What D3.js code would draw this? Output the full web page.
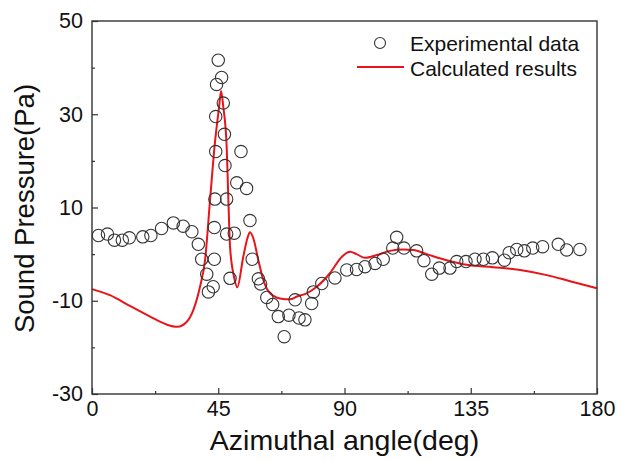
<!DOCTYPE html>
<html>
<head>
<meta charset="utf-8">
<script src="https://cdn.jsdelivr.net/npm/d3@7"></script>
<style>
  html, body { margin: 0; padding: 0; background: #fff; }
  svg { display: block; font-family: "Liberation Sans", Arial, Helvetica, sans-serif; }
</style>
</head>
<body>
<svg id="chart" width="617" height="461"></svg>
<script>
// Measured sound pressure (angle in degrees, pressure in Pa)
const expAngle = [2.3, 5.5, 8.0, 10.8, 13.3, 18.1, 21.0, 24.8, 29.0, 32.5, 35.6, 37.9, 39.1, 40.9, 41.5, 43.2,
  43.6, 43.6, 43.8, 44.1, 44.1, 44.4, 45.0, 46.2, 46.8, 47.2, 47.4, 48.0, 48.0, 49.2, 50.7, 51.6, 53.1, 55.1,
  56.3, 57.1, 59.3, 60.1, 62.3, 64.4, 66.4, 68.5, 70.2, 72.4, 73.8, 75.9, 78.3, 78.9, 81.9, 86.6, 90.8, 94.3,
  97.3, 100.9, 103.8, 107.2, 108.6, 111.2, 115.7, 118.3, 121.1, 123.8, 127.6, 130.0, 133.3, 136.5, 139.5,
  142.7, 147.0, 148.7, 151.4, 154.1, 157.1, 160.6, 166.2, 169.2, 173.9];
const expPressure = [4.0, 4.3, 3.0, 3.0, 3.5, 3.7, 4.0, 5.5, 6.7, 6.0, 4.8, 2.1, -1.1, -4.3, -8.1, -7.0,
  -1.1, 5.7, 11.8, 22.0, 29.5, 36.4, 41.6, 37.9, 32.4, 25.7, 19.0, 11.8, 4.3, -5.2, 4.5, 15.3, 22.0, 14.1,
  7.2, -1.1, -5.3, -6.4, -9.3, -10.8, -13.4, -17.7, -13.1, -9.8, -13.7, -14.1, -10.6, -8.1, -6.3, -5.1, -3.4, -3.3,
  -2.7, -2.0, -1.1, 1.3, 3.6, 1.3, 0.7, -1.4, -4.3, -3.0, -3.0, -1.6, -1.6, -1.1, -1.1,
  -0.8, -1.3, 0.3, 1.0, 0.7, 1.3, 1.6, 2.1, 0.9, 1.0];

// Model prediction
const calcAngle = [0, 6.4, 13.5, 20.7, 26.6, 30.4, 33.8, 36.1, 38.5, 40.3, 42.1, 43.8, 45.3, 46.0, 46.8,
  48.0, 48.6, 49.2, 50.6, 51.8, 53.9, 55.4, 56.3, 57.5, 59.3, 61.1, 63.5, 67.0, 70.6, 73.0, 76.5, 80.1,
  84.8, 89.0, 92.0, 94.3, 97.3, 101.5, 106.2, 111.0, 114.5, 119.3, 126.4, 133.6, 143.0, 152.6, 162.1,
  170.4, 180];
const calcPressure = [-7.5, -8.8, -11.1, -13.4, -15.1, -15.6, -14.5, -12.0, -7.0, -1.3, 11.8, 23.8, 31.6, 35.0, 31.6,
  23.0, 11.8, 1.6, -4.8, -7.1, -0.6, 3.4, 4.7, 3.4, -1.3, -5.6, -8.4, -9.5, -9.7, -9.1, -8.4, -7.0,
  -4.1, -0.6, 0.5, 0.0, -0.8, -0.2, 0.7, 1.0, 0.9, 0.0, -1.3, -2.3, -2.8, -3.4, -4.5,
  -5.8, -7.3];

const xTicks = [0, 45, 90, 135, 180];
const yTicks = [-30, -10, 10, 30, 50];
const xMinor = [22.5, 67.5, 112.5, 157.5];
const yMinor = [-20, 0, 20, 40];

const seriesNames = ["Experimental data", "Calculated results"];

const margin = { left: 92, right: 20, top: 21, bottom: 67 };
const W = 617, H = 461;
const svg = d3.select("#chart");

const x = d3.scaleLinear().domain([0, 180]).range([margin.left, W - margin.right]);
const y = d3.scaleLinear().domain([-30, 50]).range([H - margin.bottom, margin.top]);

const axisColor = "#333";
const textColor = "#111";
const plotW = W - margin.right - margin.left;
const plotH = H - margin.bottom - margin.top;
const plainNum = d => String(d);

// Model curve
const line = d3.line()
  .x((d, i) => x(calcAngle[i]))
  .y((d, i) => y(calcPressure[i]))
  .curve(d3.curveMonotoneX);

svg.append("path")
  .datum(calcPressure)
  .attr("d", line)
  .attr("fill", "none")
  .attr("stroke", "#e8141a")
  .attr("stroke-width", 2);

// Measurement markers
svg.append("g")
  .selectAll("circle")
  .data(expPressure)
  .join("circle")
  .attr("cx", (d, i) => x(expAngle[i]))
  .attr("cy", d => y(d))
  .attr("r", 6.2)
  .attr("fill", "none")
  .attr("stroke", "#333")
  .attr("stroke-width", 1.1);

// Bottom axis with inward ticks
const xAxis = svg.append("g")
  .attr("transform", `translate(0,${y(-30)})`)
  .call(d3.axisBottom(x).tickValues(xTicks).tickFormat(plainNum)
    .tickSizeInner(-6).tickSizeOuter(0).tickPadding(7));
xAxis.selectAll("text").attr("font-size", 21.5).attr("fill", textColor);
svg.append("g")
  .attr("transform", `translate(0,${y(-30)})`)
  .call(d3.axisBottom(x).tickValues(xMinor).tickSizeInner(-3).tickSizeOuter(0).tickFormat(""));

// Left axis with inward ticks
const yAxis = svg.append("g")
  .attr("transform", `translate(${x(0)},0)`)
  .call(d3.axisLeft(y).tickValues(yTicks).tickFormat(plainNum)
    .tickSizeInner(-6).tickSizeOuter(0).tickPadding(9));
yAxis.selectAll("text").attr("font-size", 21.5).attr("fill", textColor);
svg.append("g")
  .attr("transform", `translate(${x(0)},0)`)
  .call(d3.axisLeft(y).tickValues(yMinor).tickSizeInner(-3).tickSizeOuter(0).tickFormat(""));

svg.selectAll(".domain").remove();
svg.selectAll(".tick line").attr("stroke", axisColor).attr("stroke-width", 1.2);

// Frame
svg.append("rect")
  .attr("x", margin.left).attr("y", margin.top)
  .attr("width", plotW).attr("height", plotH)
  .attr("fill", "none").attr("stroke", axisColor).attr("stroke-width", 1.4);

// Axis titles
svg.append("text")
  .attr("x", x(90)).attr("y", 450)
  .attr("text-anchor", "middle")
  .attr("font-size", 28.5).attr("fill", textColor)
  .text("Azimuthal angle(deg)");

svg.append("text")
  .attr("transform", `translate(34,${y(10) + 1}) rotate(-90)`)
  .attr("text-anchor", "middle")
  .attr("font-size", 27.5).attr("fill", textColor)
  .text("Sound Pressure(Pa)");

// Legend
const legend = svg.append("g");
legend.append("circle")
  .attr("cx", 380).attr("cy", 43).attr("r", 5.5)
  .attr("fill", "none").attr("stroke", "#333").attr("stroke-width", 1.1);
legend.append("line")
  .attr("x1", 357).attr("x2", 404).attr("y1", 67).attr("y2", 67)
  .attr("stroke", "#e8141a").attr("stroke-width", 2);
legend.selectAll("text.lg")
  .data(seriesNames)
  .join("text")
  .attr("class", "lg")
  .attr("x", 410)
  .attr("y", (d, i) => 43 + i * 25)
  .attr("dominant-baseline", "central")
  .attr("font-size", 21).attr("fill", textColor)
  .text(d => d);
</script>
</body>
</html>
